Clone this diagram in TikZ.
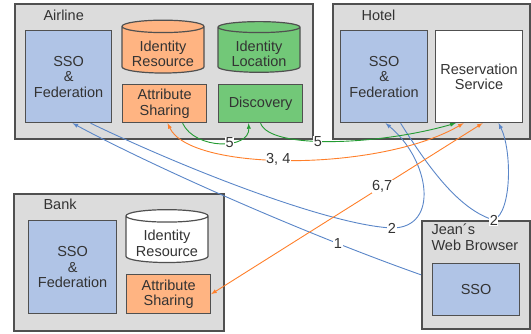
\documentclass[tikz,border=0pt]{standalone}
\usepackage{fontspec}
\setmainfont{Liberation Sans}
\usetikzlibrary{arrows,shapes.geometric}
\begin{document}
\begin{tikzpicture}[x=1pt,y=-1pt,
   every node/.style={font=\fontsize{14.5}{15.5}\selectfont,text=textgray},
   group/.style={draw=framegray,fill=groupgray,line width=1.6pt,anchor=north west,inner sep=0pt},
   part/.style={draw=framegray,line width=1.2pt,anchor=north west,inner sep=0pt,align=center},
   store/.style={cylinder,shape border rotate=90,aspect=0.2,draw=framegray,line width=1.2pt,
     minimum width=82pt,minimum height=40pt,inner sep=0pt,align=center},
   tag/.style={fill=white,inner sep=0.5pt},
   flow/.style={line width=0.9pt,-latex}]
   \definecolor{groupgray}{HTML}{DCDCDC}
   \definecolor{framegray}{HTML}{505050}
   \definecolor{textgray}{HTML}{333333}
   \definecolor{ssoblue}{HTML}{B0C4E6}
   \definecolor{attrorange}{HTML}{FFB482}
   \definecolor{discgreen}{HTML}{72C878}
   \definecolor{flowblue}{HTML}{5A86C8}
   \definecolor{floworange}{HTML}{FF7F2A}
   \definecolor{flowgreen}{HTML}{239B32}
   \useasboundingbox (0,0) rectangle (531,333);
   % organisations
   \node [group,minimum width=298,minimum height=135] (airline) at (14,3) {};
   \node [group,minimum width=197,minimum height=135] (hotel) at (332,3) {};
   \node [group,minimum width=210,minimum height=137] (bank) at (13,193) {};
   \node [group,minimum width=108,minimum height=108] (browser) at (421,220) {};
   \node [anchor=west] (airlineName) at ([shift={(26,12)}]airline.north west) {Airline};
   \node [anchor=west] (hotelName) at ([shift={(26,12)}]hotel.north west) {Hotel};
   \node [anchor=west] (bankName) at ([shift={(27,11)}]bank.north west) {Bank};
   \node [anchor=west,align=left] (browserName) at ([shift={(7,17)}]browser.north west) {Jean´s\\Web Browser};
   % airline
   \node [part,fill=ssoblue,minimum width=86,minimum height=92] (ssoA) at (25,30) {SSO\\\&\\Federation};
   \node [store,fill=attrorange] (idresA) at (163,50) {\rule{0pt}{18pt}Identity\\Resource};
   \node [store,fill=discgreen] (idloc) at (259,50) {\rule{0pt}{18pt}Identity\\Location};
   \node [part,fill=attrorange,minimum width=84,minimum height=38] (asA) at (122,84) {Attribute\\Sharing};
   \node [part,fill=discgreen,minimum width=84,minimum height=38] (disc) at (218,84) {Discovery};
   % hotel
   \node [part,fill=ssoblue,minimum width=87,minimum height=92] (ssoH) at (340,30) {SSO\\\&\\Federation};
   \node [part,fill=white,minimum width=87,minimum height=92] (res) at (435,30) {Reservation\\Service};
   % bank
   \node [part,fill=ssoblue,minimum width=88,minimum height=93] (ssoB) at (28,220) {SSO\\\&\\Federation};
   \node [store,fill=white] (idresB) at (167,239.5) {\rule{0pt}{18pt}Identity\\Resource};
   \node [part,fill=attrorange,minimum width=84,minimum height=39] (asB) at (126,274) {Attribute\\Sharing};
   % browser
   \node [part,fill=ssoblue,minimum width=87,minimum height=52] (ssoW) at (432,263) {SSO};
   % messages
   \draw [flow,draw=flowblue] (browser.west) .. controls (300,232) and (150,165) .. ([xshift=4]ssoA.south)
     node [tag,pos=0.22] (n1) {1};
   \draw [flow,draw=flowblue] ([xshift=22]ssoA.south) .. controls (190,171) and (330,225) .. (392,228)
     node [tag] (n2a) {2} .. controls (440,228) and (430,160) .. ([xshift=1.5]ssoH.south);
   \draw [flow,draw=flowblue] ([xshift=16.5]ssoH.south) .. controls (430,170) and (460,210) .. ([xshift=18]browser.north)
     node [tag] (n2b) {2} .. controls (512,212) and (512,150) .. ([xshift=19.5]res.south);
   \draw [flow,latex-latex,draw=floworange] ([xshift=3]asA.south) .. controls (190,172) and (380,172) .. ([xshift=-15.5]res.south)
     node [tag,pos=0.46] (n34) {3, 4};
   \draw [flow,draw=flowgreen] ([xshift=18]asA.south) .. controls (195,150) and (250,150) .. ([xshift=-12]disc.south)
     node [tag,pos=0.6] (n5a) {5};
   \draw [flow,draw=flowgreen] (disc.south) .. controls (270,150) and (380,145) .. ([xshift=-23.5]res.south)
     node [tag,pos=0.43] (n5b) {5};
   \draw [flow,latex-latex,draw=floworange] (asB.east) -- ([xshift=3.5]res.south)
     node [tag,pos=0.63] (n67) {6,7};
\end{tikzpicture}
\end{document}
